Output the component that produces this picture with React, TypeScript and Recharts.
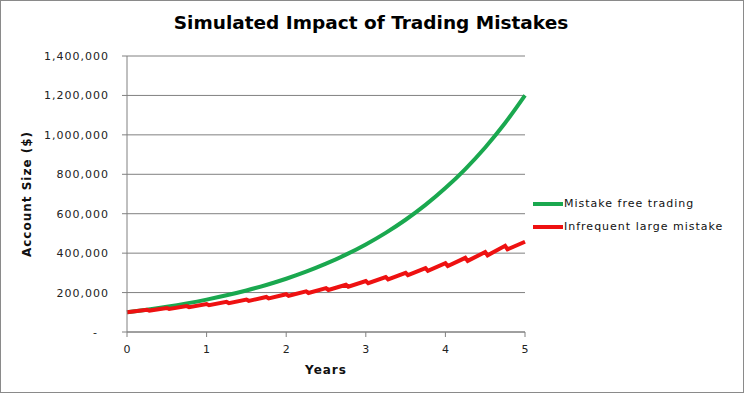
import { LineChart, Line, XAxis, YAxis, CartesianGrid, Label } from "recharts";

// years, quarterly
const greenYears = [0, 0.25, 0.5, 0.75, 1, 1.25, 1.5, 1.75, 2, 2.25, 2.5, 2.75, 3, 3.25, 3.5, 3.75, 4, 4.25, 4.5, 4.75, 5];
const greenValues = [
  100000, 113230, 128209, 145171, 164375, 186121, 210744, 238625, 270192, 305937, 346410,
  392238, 444125, 502879, 569410, 644737, 730037, 826621, 935979, 1059790, 1200000,
];

// red line: peak at each quarter, then the low just after the mistake
const redYears = [
  0, 0.25, 0.28, 0.5, 0.53, 0.75, 0.78, 1, 1.03, 1.25, 1.28, 1.5, 1.53, 1.75, 1.78, 2, 2.03, 2.25, 2.28,
  2.5, 2.53, 2.75, 2.78, 3, 3.03, 3.25, 3.28, 3.5, 3.53, 3.75, 3.78, 4, 4.03, 4.25, 4.28, 4.5, 4.53, 4.75, 4.78, 5,
];
const redValues = [
  100000, 113230, 108600, 122056, 117000, 131571, 126100, 141827, 136000, 152882, 146600,
  164800, 158000, 177645, 170300, 191492, 183600, 206420, 197900, 222510, 213300, 239855,
  230000, 258552, 247900, 278705, 267200, 300431, 288000, 323849, 310500, 349093, 334700,
  376305, 360800, 405639, 388900, 437258, 419200, 458000,
];

const xTicks = [0, 1, 2, 3, 4, 5];
const yTicks = [0, 200000, 400000, 600000, 800000, 1000000, 1200000, 1400000];

const seriesNames = ["Mistake free trading", "Infrequent large mistake"];
const GREEN = "#1aa84f";
const RED = "#ee1111";
const FONT = "'DejaVu Sans', Verdana, sans-serif";

const greenData = greenYears.map((t, i) => ({ t, v: greenValues[i] }));
const redData = redYears.map((t, i) => ({ t, v: redValues[i] }));

function YTick(props: any) {
  const { x, y, payload } = props;
  const v = payload.value as number;
  return (
    <text
      x={v === 0 ? x - 11 : x}
      y={y}
      dy={4}
      textAnchor="end"
      fontSize={11}
      letterSpacing={1}
      fontFamily={FONT}
      fill="#222"
    >
      {v === 0 ? "-" : v.toLocaleString("en-US")}
    </text>
  );
}

function LegendBox() {
  const colors = [GREEN, RED];
  return (
    <div
      style={{
        position: "absolute",
        left: 532,
        top: 191,
        fontFamily: FONT,
        fontSize: 11,
        letterSpacing: 1,
        color: "#111",
      }}
    >
      {seriesNames.map((n, i) => (
        <div key={n} style={{ display: "flex", alignItems: "center", height: 23 }}>
          <span style={{ display: "inline-block", width: 30, height: 4, background: colors[i] }} />
          <span style={{ marginLeft: 1 }}>{n}</span>
        </div>
      ))}
    </div>
  );
}

export default function App() {
  return (
    <div
      style={{
        position: "absolute",
        left: 0,
        top: 0,
        width: 744,
        height: 393,
        border: "1px solid #8a8a8a",
        boxSizing: "border-box",
        background: "#fff",
      }}
    >
      <LineChart
        width={742}
        height={391}
        margin={{ top: 55, right: 218, bottom: 16, left: 14 }}
        style={{ position: "absolute", left: 0, top: 0 }}
      >
        <text x={370} y={28} textAnchor="middle" fontFamily={FONT} fontWeight="bold" fontSize={18.5} fill="#000">
          Simulated Impact of Trading Mistakes
        </text>
        <CartesianGrid vertical={false} stroke="#808080" />
        <XAxis
          type="number"
          dataKey="t"
          domain={[0, 5]}
          ticks={xTicks}
          allowDuplicatedCategory={false}
          stroke="#808080"
          tickSize={5}
          tickMargin={8}
          height={44}
          tick={{ fontSize: 11, fill: "#222", fontFamily: FONT }}
        >
          <Label value="Years" position="insideBottom" offset={2} fontSize={12} fontWeight="bold" fontFamily={FONT} fill="#111" letterSpacing={1} />
        </XAxis>
        <YAxis
          type="number"
          domain={[0, 1400000]}
          ticks={yTicks}
          stroke="#808080"
          tickSize={5}
          tickMargin={13}
          width={112}
          tick={<YTick />}
        >
          <Label
            value="Account Size ($)"
            angle={-90}
            position="insideLeft"
            offset={12}
            style={{ textAnchor: "middle" }}
            fontSize={12}
            fontWeight="bold"
            fontFamily={FONT}
            fill="#111"
            letterSpacing={1}
          />
        </YAxis>
        <Line
          data={greenData}
          dataKey="v"
          name={seriesNames[0]}
          type="monotone"
          stroke={GREEN}
          strokeWidth={4}
          dot={false}
          isAnimationActive={false}
        />
        <Line
          data={redData}
          dataKey="v"
          name={seriesNames[1]}
          type="linear"
          stroke={RED}
          strokeWidth={4}
          dot={false}
          isAnimationActive={false}
        />
      </LineChart>
      <LegendBox />
    </div>
  );
}
